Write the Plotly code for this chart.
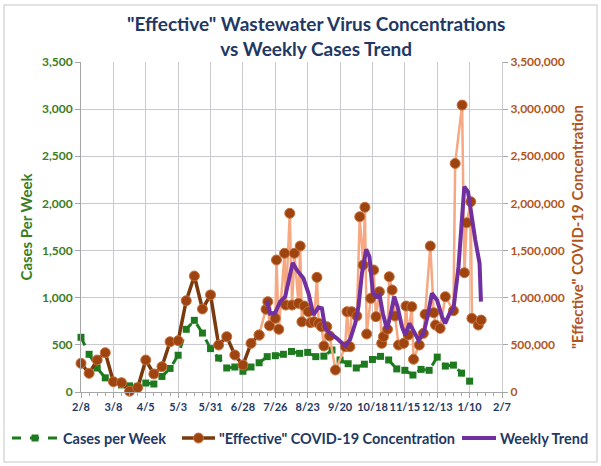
import plotly.graph_objects as go

# ---- data ----
tick_days = [0, 28, 56, 84, 112, 140, 168, 196, 224, 252, 280, 308, 336, 364]
tick_labels = ["2/8", "3/8", "4/5", "5/3", "5/31", "6/28", "7/26", "8/23",
               "9/20", "10/18", "11/15", "12/13", "1/10", "2/7"]

cases_days = [0, 7, 14, 21, 28, 35, 42, 49, 56, 63, 70, 77, 84, 91, 98, 105, 112,
              119, 126, 133, 140, 147, 154, 161, 168, 175, 182, 189, 196, 203, 210,
              217, 224, 231, 238, 245, 252, 259, 266, 273, 280, 287, 294, 301, 308,
              315, 322, 329, 336]
cases_vals = [580, 400, 255, 150, 110, 75, 65, 60, 95, 85, 165, 250, 390, 665, 760,
              625, 460, 360, 255, 265, 220, 265, 310, 375, 385, 400, 430, 410, 420,
              375, 380, 445, 340, 300, 255, 295, 345, 378, 340, 245, 230, 180, 240,
              230, 370, 275, 285, 200, 115]

conc_early_days = [0, 7, 14, 21, 28, 35, 42, 49, 56, 63, 70, 77, 84, 91, 98, 105,
                   112, 119, 126, 133, 140, 147, 154]
conc_early_vals = [304000, 198000, 339000, 417000, 109000, 99000, 8000, 46000,
                   339000, 191000, 269000, 533000, 544000, 968000, 1230000, 880000,
                   1030000, 498000, 587000, 392000, 286000, 516000, 604000]

conc_late_days = [154, 160, 161.5, 163, 168, 169, 171, 176, 177, 180.5, 182.5, 184.5,
                  188, 189.5, 191, 193, 196.5, 198.5, 201.5, 204, 205.5, 208, 210,
                  212.5, 215, 220, 228.5, 230, 232.5, 234, 238.5, 241, 244, 245.5,
                  247, 250.5, 253, 255, 258, 260, 261.5, 265, 266.5, 269, 271.5,
                  274.5, 279, 281, 283, 286, 287.5, 292.5, 296, 297.5, 302, 305,
                  306.5, 310.5, 315, 322, 323.5, 329.5, 331.5, 333.5, 337, 338,
                  343.5, 346]
conc_late_vals = [604000, 877000, 958000, 703000, 781000, 1400000, 665000, 1471000,
                  922000, 1895000, 922000, 1471000, 940000, 1548000, 745000, 912000,
                  852000, 735000, 745000, 1216000, 728000, 693000, 488000, 693000,
                  594000, 233000, 480000, 852000, 480000, 852000, 806000, 1859000,
                  1347000, 1959000, 615000, 993000, 1294000, 799000, 1064000,
                  516000, 587000, 665000, 1223000, 1082000, 806000, 498000, 516000,
                  912000, 604000, 905000, 347000, 498000, 622000, 824000, 1548000,
                  841000, 710000, 675000, 1011000, 862000, 2424000, 3043000,
                  1265000, 1795000, 2018000, 781000, 710000, 763000]

trend_days = [160.7, 163.5, 167.9, 172.2, 176.5, 183.0, 186.6, 192.3, 196.7, 201.0,
              205.3, 208.3, 211.1, 215.4, 221.2, 228.4, 232.7, 237.1, 239.9, 242.9,
              246.6, 249.4, 252.4, 255.2, 258.1, 261.0, 264.5, 267.3, 270.8, 273.7,
              277.5, 280.3, 284.0, 287.5, 291.8, 296.2, 299.6, 303.4, 307.8, 312.1,
              314.9, 318.7, 322.1, 326.4, 329.4, 331.4, 334.6, 338.0, 340.9, 344.6,
              345.8]
trend_vals = [968000, 830000, 841000, 958000, 1011000, 1370000, 1294000, 1206000,
              1047000, 817000, 898000, 888000, 675000, 622000, 569000, 488000,
              559000, 728000, 905000, 1259000, 1513000, 1435000, 1047000, 1011000,
              1029000, 834000, 665000, 799000, 1011000, 905000, 693000, 604000,
              728000, 640000, 551000, 622000, 799000, 1047000, 976000, 799000,
              728000, 834000, 888000, 1329000, 1859000, 2177000, 2124000, 1824000,
              1612000, 1365000, 958000]

title_text = '"Effective" Wastewater Virus Concentrations<br>vs Weekly Cases Trend'
legend_names = ["Cases per Week", '"Effective" COVID-19 Concentration', "Weekly Trend"]

# ---- styles ----
FONT = "Lato"
NAVY = "#1F3864"
GREEN = "#1E7A1E"
GREEN_TXT = "#3B7D23"
BROWN_TXT = "#B0561C"
DARK_BROWN = "#7A3A0E"
MARK_BROWN = "#9E4410"
MARK_EDGE = "#C8703A"
SALMON = "#F6A882"
PURPLE = "#7030A0"
GRID = "#C9C9CF"

# plot-area geometry (pixels) used to place the hand-built legend
L, R, T, B, W, H = 81, 99, 62, 74, 601, 466
PW, PH = W - L - R, H - T - B


def px(x):
    return (x - L) / PW


def py(y):
    return (H - B - y) / PH


fig = go.Figure()

fig.add_trace(go.Scatter(
    x=cases_days, y=cases_vals, name=legend_names[0], mode="lines+markers",
    line=dict(color=GREEN, width=3, dash="dash"),
    marker=dict(symbol="square", size=7, color=GREEN),
    cliponaxis=False))

fig.add_trace(go.Scatter(
    x=conc_late_days, y=conc_late_vals, name="late", mode="lines+markers",
    yaxis="y2",
    line=dict(color=SALMON, width=2.5),
    marker=dict(symbol="circle", size=10, color=MARK_BROWN,
                line=dict(color=MARK_EDGE, width=1)),
    cliponaxis=False))

fig.add_trace(go.Scatter(
    x=conc_early_days, y=conc_early_vals, name=legend_names[1],
    mode="lines+markers", yaxis="y2",
    line=dict(color=DARK_BROWN, width=3.5),
    marker=dict(symbol="circle", size=10, color=MARK_BROWN,
                line=dict(color=MARK_EDGE, width=1)),
    cliponaxis=False))

fig.add_trace(go.Scatter(
    x=trend_days, y=trend_vals, name=legend_names[2], mode="lines",
    yaxis="y2", line=dict(color=PURPLE, width=4),
    cliponaxis=False))

# ---- hand-built legend (single row, like the original) ----
leg_y = 438
shapes = [dict(type="rect", xref="paper", yref="paper",
               x0=px(4), x1=px(597), y0=py(462), y1=py(5),
               line=dict(color="#D9D9D9", width=1.5), fillcolor="rgba(0,0,0,0)",
               layer="below")]
shapes.append(dict(type="line", xref="paper", yref="paper", x0=px(12), x1=px(58),
                   y0=py(leg_y), y1=py(leg_y), line=dict(color=GREEN, width=3, dash="dash")))
shapes.append(dict(type="rect", xref="paper", yref="paper", x0=px(31.5), x1=px(38.5),
                   y0=py(leg_y + 3.5), y1=py(leg_y - 3.5), line=dict(width=0),
                   fillcolor=GREEN))
shapes.append(dict(type="line", xref="paper", yref="paper", x0=px(182), x1=px(215),
                   y0=py(leg_y), y1=py(leg_y), line=dict(color=DARK_BROWN, width=3.5)))
shapes.append(dict(type="circle", xref="paper", yref="paper", x0=px(193.5), x1=px(203.5),
                   y0=py(leg_y + 5), y1=py(leg_y - 5), line=dict(color=MARK_EDGE, width=1),
                   fillcolor=MARK_BROWN))
shapes.append(dict(type="line", xref="paper", yref="paper", x0=px(462), x1=px(496),
                   y0=py(leg_y), y1=py(leg_y), line=dict(color=PURPLE, width=4)))

leg_font = dict(family=FONT, size=14.5, color=NAVY, weight="bold")
annotations = [
    dict(text=title_text, xref="paper", yref="paper", x=0.558, y=1.078,
         xanchor="center", yanchor="middle", showarrow=False, align="center",
         font=dict(family=FONT, size=19, color=NAVY, weight="bold")),
    dict(text=legend_names[0], xref="paper", yref="paper", x=px(61), y=py(leg_y),
         xanchor="left", yanchor="middle", showarrow=False, font=leg_font),
    dict(text=legend_names[1], xref="paper", yref="paper", x=px(217), y=py(leg_y),
         xanchor="left", yanchor="middle", showarrow=False, font=leg_font),
    dict(text=legend_names[2], xref="paper", yref="paper", x=px(498), y=py(leg_y),
         xanchor="left", yanchor="middle", showarrow=False, font=leg_font),
]

fig.update_layout(
    width=W, height=H, showlegend=False,
    margin=dict(l=L, r=R, t=T, b=B),
    paper_bgcolor="white", plot_bgcolor="white",
    font=dict(family=FONT, color=NAVY),
    annotations=annotations, shapes=shapes,
    xaxis=dict(range=[0, 364], tickmode="array", tickvals=tick_days,
               ticktext=tick_labels, tickangle=0, showgrid=True, gridcolor=GRID,
               gridwidth=1, showline=True, linecolor="#A6A6A6", ticks="outside",
               ticklen=5, tickcolor="#A6A6A6", zeroline=False, automargin=False,
               tickfont=dict(family=FONT, size=11, color=NAVY, weight="bold"),
               minor=dict(tickmode="linear", tick0=0, dtick=7, ticks="outside",
                          ticklen=3, tickcolor="#A6A6A6", showgrid=False)),
    yaxis=dict(range=[0, 3500], dtick=500, tickformat=",", showgrid=True,
               gridcolor=GRID, gridwidth=1, showline=True, linecolor="#A6A6A6",
               ticks="outside", ticklen=5, tickcolor="#A6A6A6", zeroline=False,
               automargin=False,
               tickfont=dict(family=FONT, size=12, color=GREEN_TXT, weight="bold"),
               title=dict(text="Cases Per Week", standoff=5,
                          font=dict(family=FONT, size=15, color=GREEN_TXT, weight="bold"))),
    yaxis2=dict(range=[0, 3500000], dtick=500000, tickformat=",", overlaying="y",
                side="right", showgrid=False, showline=True, linecolor=GRID,
                ticks="outside", ticklen=5, tickcolor="#A6A6A6", zeroline=False,
                automargin=False,
                tickfont=dict(family=FONT, size=12, color=BROWN_TXT, weight="bold"),
                title=dict(text='"Effective" COVID-19 Concentration', standoff=8,
                           font=dict(family=FONT, size=15, color=BROWN_TXT, weight="bold"))),
)

fig.write_html("out.html", config={"displayModeBar": False},
               post_script="document.body.style.margin='0';")
